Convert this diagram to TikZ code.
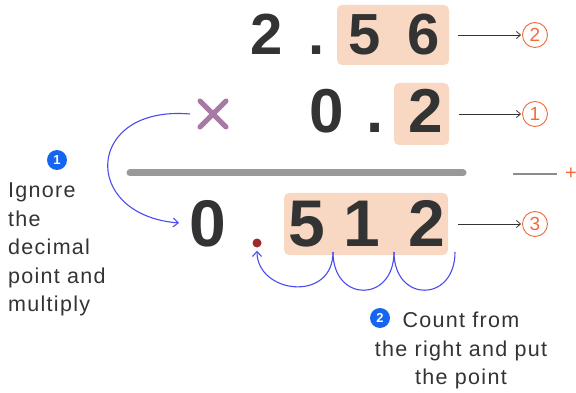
\documentclass[tikz,border=0pt]{standalone}
\usepackage{fontspec}
\setmainfont{Liberation Sans}
\newfontfamily\notefont[LetterSpace=6]{Liberation Sans}
\usetikzlibrary{arrows.meta,shapes.misc}

\definecolor{ink}{HTML}{333333}
\definecolor{peach}{HTML}{F8D8C2}
\definecolor{mark}{HTML}{F26A3C}
\definecolor{hopblue}{HTML}{4B4BF2}
\definecolor{badgeblue}{HTML}{1565F0}
\definecolor{crossviolet}{HTML}{A77AA6}
\definecolor{dotred}{HTML}{9E2B2B}

\tikzset{
    digit/.style={font=\fontsize{#1}{#1}\selectfont\bfseries, text=ink, inner sep=0pt, anchor=base},
    hilite/.style={fill=peach, rounded corners=5pt, inner sep=0pt},
    ring/.style={circle, draw=mark, line width=0.9pt, text=mark, minimum size=25pt,
        inner sep=0pt, font=\fontsize{19}{19}\selectfont},
    badge/.style={circle, fill=badgeblue, text=white, minimum size=20pt, inner sep=0pt,
        font=\fontsize{13}{13}\selectfont\bfseries},
    note/.style={font=\notefont\fontsize{21.5}{28.5}\selectfont, text=ink, inner sep=0pt},
    pointer/.style={-{Straight Barb[length=4pt,width=7pt]}, ink, line width=0.8pt},
    hop/.style={draw=hopblue, line width=1.1pt}
}

\begin{document}
\begin{tikzpicture}[x=1pt,y=-1pt]
    \useasboundingbox (0,0) rectangle (576,393);

    % shaded places
    \node[hilite, minimum width=112pt, minimum height=60pt] (box1) at (393,35) {};
    \node[hilite, minimum width=55pt, minimum height=62pt] (box2) at (421.5,114) {};
    \node[hilite, minimum width=164pt, minimum height=62pt] (box3) at (366,224) {};

    % 2.56
    \node[digit=58] (a1) at (266.5,55) {2};
    \node[digit=58] (apt) at (317,55) {.};
    \node[digit=58] (a2) at (365,55) {5};
    \node[digit=58] (a3) at (424,55) {6};

    % x 0.2
    \node[cross out, draw=crossviolet, line width=5pt, line cap=round,
        minimum size=21pt, inner sep=0pt] (times) at (213,114) {};
    \node[digit=62] (b1) at (327,133) {0};
    \node[digit=62] (bpt) at (375,133) {.};
    \node[digit=62] (b2) at (426,133) {2};

    \draw[line width=7pt, black!40, line cap=round] (130,173) -- (463,173);

    % 0.512
    \node[digit=66] (c0) at (207.5,246.5) {0};
    \node[circle, fill=dotred, minimum size=9pt, inner sep=0pt] (cpt) at (257,243) {};
    \node[digit=66] (c1) at (307,246.5) {5};
    \node[digit=66] (c2) at (362,246.5) {1};
    \node[digit=66] (c3) at (427,246.5) {2};

    % places
    \node[ring] (n2) at (535,35) {2};
    \node[ring] (n1) at (535,114) {1};
    \node[ring] (n3) at (535,224) {3};
    \draw[pointer, shorten <=9pt, shorten >=1pt] (box1.east) -- (n2.west);
    \draw[pointer, shorten <=10pt, shorten >=1pt] (box2.east) -- (n1.west);
    \draw[pointer, shorten <=10pt, shorten >=1pt] (box3.east) -- (n3.west);

    \draw[line width=2pt, black!45] (513,174) -- (557,174);
    \node[text=mark, font=\fontsize{20}{20}\selectfont, inner sep=0pt] (plus) at (571,174) {+};

    % step 1
    \draw[hop, -{Straight Barb[length=5pt,width=9pt]}, shorten >=10pt]
        ([xshift=-10pt]times.west) .. controls (85,105) and (80,215) .. (c0.west);
    \node[badge] (s1) at (57,160) {1};
    \node[note, anchor=north west, align=left] (t1) at (8,183)
        {Ignore\\the\\decimal\\point and\\multiply};

    % step 2
    \coordinate (g3) at (455,252);
    \coordinate (g2) at (394,252);
    \coordinate (g1) at (333,252);
    \draw[hop] (g3) .. controls +(0,51) and +(0,51) .. (g2);
    \draw[hop] (g2) .. controls +(0,51) and +(0,51) .. (g1);
    \draw[hop, -{Straight Barb[length=5pt,width=9pt]}, shorten >=3pt]
        (g1) .. controls +(0,51) and +(0,46) .. (cpt.south);
    \node[badge] (s2) at (380,318) {2};
    \node[note, anchor=north, align=center] (t2) at (461,312)
        {Count from\\the right and put\\the point};
\end{tikzpicture}
\end{document}
